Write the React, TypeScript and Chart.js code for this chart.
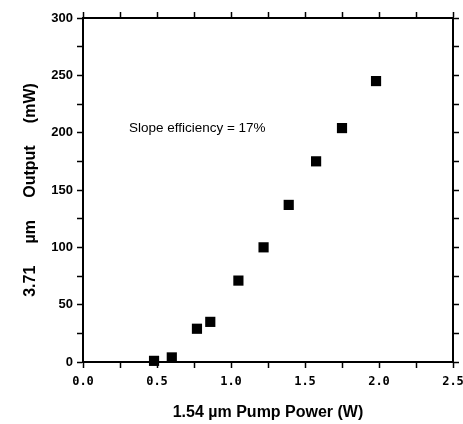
import React, { useEffect, useRef } from "react";
import { Chart, registerables } from "chart.js";

Chart.register(...registerables);

const pumpPower = [0.48, 0.6, 0.77, 0.86, 1.05, 1.22, 1.39, 1.575, 1.75, 1.98];
const outputPower = [1, 4, 29, 35, 71, 100, 137, 175, 204, 245];
const xTicks = ["0.0", "0.5", "1.0", "1.5", "2.0", "2.5"];
const yTicks = ["0", "50", "100", "150", "200", "250", "300"];
const xTitle = "1.54 \u00b5m Pump Power (W)";
const yTitle = "3.71     \u00b5m     Output     (mW)";
const annotationText = "Slope efficiency = 17%";
const annotationPos = { x: 0.31, y: 204 };

const SANS = "'Liberation Sans', Arial, Helvetica, sans-serif";
const MONO = "'DejaVu Sans Mono', monospace";

const annotationPlugin = {
  id: "slopeText",
  afterDatasetsDraw(chart: any) {
    const { ctx, scales } = chart;
    const px = scales.x.getPixelForValue(annotationPos.x);
    const py = scales.y.getPixelForValue(annotationPos.y);
    ctx.save();
    ctx.fillStyle = "#000";
    ctx.font = `13.5px ${SANS}`;
    ctx.textAlign = "left";
    ctx.textBaseline = "middle";
    ctx.fillText(annotationText, px, py);
    ctx.restore();
  },
};

export default function App() {
  const ref = useRef<HTMLCanvasElement | null>(null);

  useEffect(() => {
    if (!ref.current) return;
    const gridCommon = {
      display: true,
      drawOnChartArea: false,
      drawTicks: true,
      tickLength: 6,
      tickWidth: 1.5,
      tickColor: "#000",
      color: "#000",
    };
    const borderCommon = { display: true, color: "#000", width: 2 };
    const xLabel = (v: any) => {
      const s = Number(v).toFixed(1);
      return xTicks.includes(s) && Math.abs(Number(v) * 2 - Math.round(Number(v) * 2)) < 1e-6 ? s : "";
    };
    const yLabel = (v: any) => {
      const s = String(Math.round(Number(v)));
      return yTicks.includes(s) && Math.round(Number(v)) % 50 === 0 ? s : "";
    };
    const chart = new Chart(ref.current, {
      type: "scatter",
      data: {
        datasets: [
          {
            data: pumpPower.map((x, i) => ({ x, y: outputPower[i] })),
            pointStyle: "rect",
            pointRadius: 7.2,
            pointHoverRadius: 7.2,
            backgroundColor: "#000",
            borderColor: "#000",
            borderWidth: 0,
            clip: false as any,
          },
        ],
      },
      options: {
        animation: false,
        responsive: false,
        maintainAspectRatio: false,
        layout: { padding: 0 },
        plugins: { legend: { display: false }, tooltip: { enabled: false } },
        scales: {
          x: {
            type: "linear",
            position: "bottom",
            min: 0,
            max: 2.5,
            ticks: {
              stepSize: 0.25,
              autoSkip: false,
              maxRotation: 0,
              padding: 7,
              color: "#000",
              font: { family: MONO, size: 12, weight: "bold" },
              callback: xLabel,
            },
            grid: gridCommon,
            border: borderCommon,
            title: {
              display: true,
              text: xTitle,
              color: "#000",
              font: { family: SANS, size: 16, weight: "bold", lineHeight: 1.2 },
              padding: { top: 0, bottom: 1.5 },
            },
            afterFit: (s: any) => {
              s.height = 62;
              s.paddingLeft = 0;
              s.paddingRight = 0;
            },
          },
          x2: {
            type: "linear",
            position: "top",
            min: 0,
            max: 2.5,
            ticks: { stepSize: 0.25, display: false },
            grid: gridCommon,
            border: borderCommon,
            afterFit: (s: any) => {
              s.height = 18;
              s.paddingLeft = 0;
              s.paddingRight = 0;
            },
          },
          y: {
            type: "linear",
            position: "left",
            min: 0,
            max: 300,
            ticks: {
              stepSize: 25,
              autoSkip: false,
              padding: 4,
              color: "#000",
              font: { family: SANS, size: 13, weight: "bold" },
              callback: yLabel,
            },
            grid: gridCommon,
            border: borderCommon,
            title: {
              display: true,
              text: yTitle,
              color: "#000",
              font: { family: SANS, size: 16, weight: "bold", lineHeight: 1.2 },
              padding: { top: 21, bottom: 0 },
            },
            afterFit: (s: any) => {
              s.width = 83;
            },
          },
          y2: {
            type: "linear",
            position: "right",
            min: 0,
            max: 300,
            ticks: { stepSize: 25, display: false },
            grid: gridCommon,
            border: borderCommon,
            afterFit: (s: any) => {
              s.width = 10;
            },
          },
        },
      } as any,
      plugins: [annotationPlugin],
    });
    return () => chart.destroy();
  }, []);

  return (
    <div style={{ position: "fixed", left: 0, top: 0, width: 463, height: 424, background: "#fff" }}>
      <canvas ref={ref} width={463} height={424} style={{ display: "block", width: 463, height: 424 }} />
    </div>
  );
}
